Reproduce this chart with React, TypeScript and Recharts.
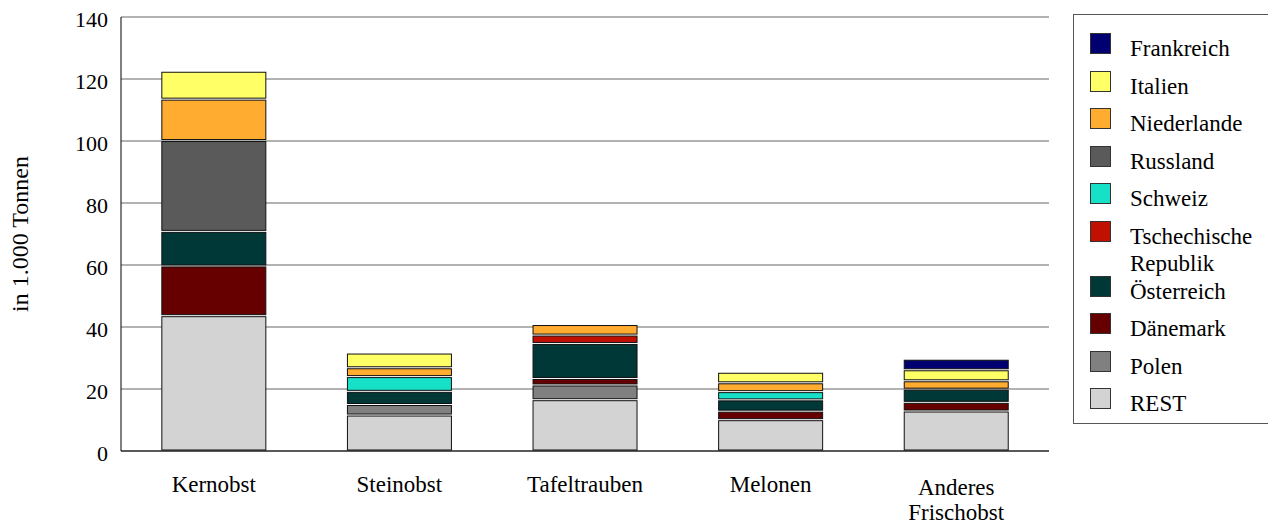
import { BarChart, Bar, XAxis, YAxis, CartesianGrid, Label } from 'recharts'

const CATEGORIES = ['Kernobst', 'Steinobst', 'Tafeltrauben', 'Melonen', 'Anderes Frischobst']
const Y_TICKS = [0, 20, 40, 60, 80, 100, 120, 140]

// values in 1.000 t, bottom of the stack first
const REST = [43.65, 11.6, 16.55, 10.1, 12.9]
const POLEN = [0, 3.4, 4.75, 0, 0]
const DAENEMARK = [16.05, 0, 2.1, 2.75, 2.8]
const OESTERREICH = [11.15, 4.25, 11.3, 3.65, 4.25]
const TSCHECHIEN = [0, 0, 2.7, 0, 0]
const SCHWEIZ = [0, 4.75, 0, 2.65, 0]
const RUSSLAND = [29.3, 0, 0, 0, 0]
const NIEDERLANDE = [13.35, 2.85, 3.4, 2.85, 2.7]
const ITALIEN = [9.0, 4.75, 0, 3.4, 3.55]
const FRANKREICH = [0, 0, 0, 0, 3.4]

const SERIES = [
    { key: 'REST', label: 'REST', color: '#d3d3d3', values: REST },
    { key: 'Polen', label: 'Polen', color: '#808080', values: POLEN },
    { key: 'Daenemark', label: 'Dänemark', color: '#660000', values: DAENEMARK },
    { key: 'Oesterreich', label: 'Österreich', color: '#003838', values: OESTERREICH },
    { key: 'Tschechien', label: 'Tschechische\nRepublik', color: '#c01000', values: TSCHECHIEN },
    { key: 'Schweiz', label: 'Schweiz', color: '#16e0c8', values: SCHWEIZ },
    { key: 'Russland', label: 'Russland', color: '#5a5a5a', values: RUSSLAND },
    { key: 'Niederlande', label: 'Niederlande', color: '#ffac30', values: NIEDERLANDE },
    { key: 'Italien', label: 'Italien', color: '#ffff66', values: ITALIEN },
    { key: 'Frankreich', label: 'Frankreich', color: '#000070', values: FRANKREICH },
]

const data = CATEGORIES.map((name, i) => {
    const row: Record<string, any> = { name }
    SERIES.forEach(s => { row[s.key] = s.values[i] })
    return row
})

const FONT = '"Liberation Serif", "Times New Roman", serif'

// segment with a small white gap above and below
const GapRect = (props: any) => {
    const { x, y, width, height, fill } = props
    if (!height || height <= 2) return null
    return <rect x={x} y={y + 1} width={width} height={height - 2} fill={fill} stroke="#111" strokeWidth={1} />
}

const CategoryTick = (props: any) => {
    const { x, y, payload } = props
    const lines = payload.value === 'Anderes Frischobst' ? ['Anderes', 'Frischobst'] : [payload.value]
    return (
        <text x={x} y={y} textAnchor="middle" fontFamily={FONT} fontSize={23} fill="#000">
            {lines.map((l, i) => (
                <tspan key={i} x={x} dy={i === 0 ? (lines.length > 1 ? 36 : 33) : 25}>{l}</tspan>
            ))}
        </text>
    )
}

const ValueTick = (props: any) => {
    const { x, y, payload } = props
    return (
        <text x={x} y={y} dy={10} textAnchor="end" fontFamily={FONT} fontSize={22} fill="#000">
            {payload.value}
        </text>
    )
}

function LegendBox() {
    const rows = [...SERIES].reverse()
    return (
        <div style={{
            position: 'absolute', left: 1073, top: 14, width: 220, height: 410,
            border: '1px solid #555', boxSizing: 'border-box', paddingTop: 18,
            fontFamily: FONT, fontSize: 23, color: '#000', background: '#fff',
        }}>
            {rows.map(s => {
                const lines = s.label.split('\n')
                return (
                    <div key={s.key} style={{ position: 'relative', height: lines.length > 1 ? 55 : 37.5 }}>
                        <div style={{
                            position: 'absolute', left: 16, top: 0, width: 21, height: 21,
                            background: s.color, border: '1px solid #333', boxSizing: 'border-box',
                        }} />
                        <div style={{ position: 'absolute', left: 56, top: 2, lineHeight: '27px', whiteSpace: 'nowrap' }}>
                            {lines.map((l, i) => <div key={i}>{l}</div>)}
                        </div>
                    </div>
                )
            })}
        </div>
    )
}

export default function App() {
    return (
        <div style={{ position: 'absolute', left: 0, top: 0, width: 1268, height: 524, background: '#fff' }}>
            <BarChart
                width={1268}
                height={524}
                data={data}
                margin={{ top: 17, right: 219, bottom: 0, left: 0 }}
                barCategoryGap="22%"
            >
                <CartesianGrid vertical={false} stroke="#666" />
                <XAxis
                    dataKey="name"
                    height={73}
                    axisLine={{ stroke: '#000' }}
                    tickLine={false}
                    tick={<CategoryTick />}
                    tickMargin={2}
                    interval={0}
                />
                <XAxis xAxisId="top" dataKey="name" orientation="top" height={0} tick={false} tickLine={false} axisLine={{ stroke: '#000' }} />
                <YAxis
                    width={121}
                    domain={[0, 140]}
                    ticks={Y_TICKS}
                    interval={0}
                    axisLine={{ stroke: '#000' }}
                    tickLine={false}
                    tickSize={6}
                    tickMargin={7}
                    tick={<ValueTick />}
                >
                    <Label
                        content={({ viewBox }: any) => {
                            const cx = 20
                            const cy = viewBox.y + viewBox.height / 2
                            return (
                                <text x={cx} y={cy} transform={`rotate(-90 ${cx} ${cy})`} textAnchor="middle"
                                    dominantBaseline="central" fontFamily={FONT} fontSize={24} fill="#000">
                                    in 1.000 Tonnen
                                </text>
                            )
                        }}
                    />
                </YAxis>
                <YAxis yAxisId="right" orientation="right" width={0} domain={[0, 140]} tick={false} tickLine={false} axisLine={{ stroke: '#000' }} />
                {SERIES.map(s => (
                    <Bar key={s.key} dataKey={s.key} stackId="a" fill={s.color} shape={<GapRect />} isAnimationActive={false} />
                ))}
            </BarChart>
            <LegendBox />
        </div>
    )
}
